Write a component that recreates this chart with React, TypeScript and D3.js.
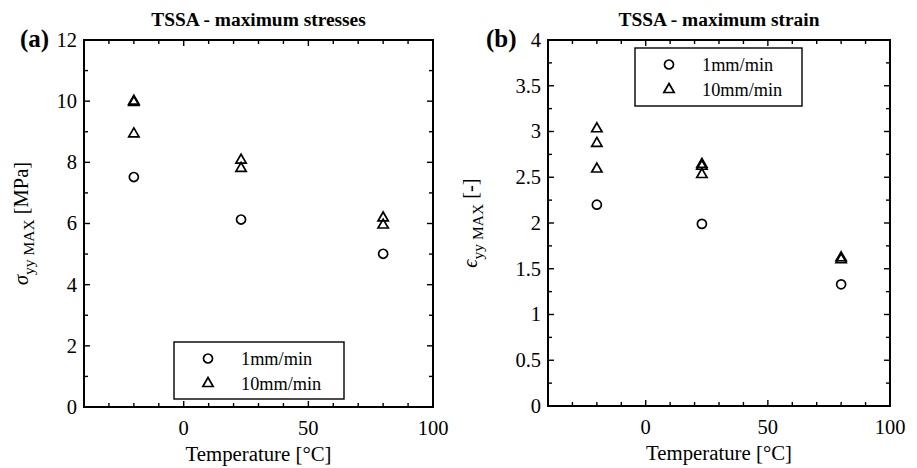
import React from "react";
import * as d3 from "d3";

const stressSlowX = [-20, 23, 80];
const stressSlow = [7.52, 6.13, 5.01];
const stressFastX = [-20, -20, -20, 23, 23, 80, 80];
const stressFast = [10.0, 9.96, 8.93, 8.07, 7.8, 6.18, 5.95];
const strainSlowX = [-20, 23, 80];
const strainSlow = [2.2, 1.99, 1.33];
const strainFastX = [-20, -20, -20, 23, 23, 23, 80, 80];
const strainFast = [3.03, 2.87, 2.59, 2.64, 2.62, 2.53, 1.62, 1.6];
const xTicks = [0, 50, 100];
const stressTicks = [0, 2, 4, 6, 8, 10, 12];
const strainTicks = [0, 0.5, 1, 1.5, 2, 2.5, 3, 3.5, 4];
const legendLabels = ["1mm/min", "10mm/min"];

const FONT = "'Liberation Serif', 'Times New Roman', serif";

function Panel(props: any) {
  const { left, right, top, bottom, yMax, yTicks, yMinorStep, slowX, slow, fastX, fast, title, tag, tagX, legend, ylabelMain, ylabelUnit, ylabelX } = props;
  const x = d3.scaleLinear().domain([-40, 100]).range([left, right]);
  const y = d3.scaleLinear().domain([0, yMax]).range([bottom, top]);
  const xMinor = d3.range(-40, 101, 10);
  const yMinor = d3.range(0, yMax + 1e-9, yMinorStep);
  const circle = d3.symbol().type(d3.symbolCircle).size(64)();
  const tri = d3.symbol().type(d3.symbolTriangle).size(46)();
  const fmt = (v: number) => String(v);
  const midY = (top + bottom) / 2;
  return (
    <g>
      <text x={(left + right) / 2} y={26} textAnchor="middle" fontFamily={FONT} fontWeight="bold" fontSize={19.4}>{title}</text>
      <text x={tagX} y={47} fontFamily={FONT} fontWeight="bold" fontSize={25}>{tag}</text>
      {xMinor.map((v: number) => {
        const major = xTicks.includes(v);
        const L = major ? 6 : 4;
        return (
          <g key={"xt" + v}>
            <line x1={x(v)} x2={x(v)} y1={bottom} y2={bottom - L} stroke="#000" strokeWidth={1.4} />
            <line x1={x(v)} x2={x(v)} y1={top} y2={top + L} stroke="#000" strokeWidth={1.4} />
          </g>
        );
      })}
      {yMinor.map((v: number) => {
        const major = yTicks.some((t: number) => Math.abs(t - v) < 1e-9);
        const L = major ? 6 : 4;
        return (
          <g key={"yt" + v}>
            <line x1={left} x2={left + L} y1={y(v)} y2={y(v)} stroke="#000" strokeWidth={1.4} />
            <line x1={right} x2={right - L} y1={y(v)} y2={y(v)} stroke="#000" strokeWidth={1.4} />
          </g>
        );
      })}
      <rect x={left} y={top} width={right - left} height={bottom - top} fill="none" stroke="#000" strokeWidth={2} />
      {xTicks.map((v: number) => (
        <text key={"xl" + v} x={x(v)} y={bottom + 28} textAnchor="middle" fontFamily={FONT} fontSize={20.5}>{fmt(v)}</text>
      ))}
      {yTicks.map((v: number) => (
        <text key={"yl" + v} x={left - 7} y={y(v)} dy="0.34em" textAnchor="end" fontFamily={FONT} fontSize={20.5}>{fmt(v)}</text>
      ))}
      <text x={(left + right) / 2} y={bottom + 54} textAnchor="middle" fontFamily={FONT} fontSize={20.8}>Temperature [°C]</text>
      <text transform={`translate(${ylabelX},${midY}) rotate(-90)`} textAnchor="middle" fontFamily={FONT} fontSize={20.5}>
        <tspan fontStyle="italic">{ylabelMain}</tspan>
        <tspan fontSize={15.5} dy={6}>yy MAX</tspan>
        <tspan dy={-6}> {ylabelUnit}</tspan>
      </text>
      {slowX.map((xv: number, i: number) => (
        <path key={"s" + i} d={circle} transform={`translate(${x(xv)},${y(slow[i])})`} fill="none" stroke="#000" strokeWidth={1.7} />
      ))}
      {fastX.map((xv: number, i: number) => (
        <path key={"f" + i} d={tri} transform={`translate(${x(xv)},${y(fast[i])})`} fill="none" stroke="#000" strokeWidth={1.7} />
      ))}
      <g>
        <rect x={legend.x} y={legend.y} width={legend.w} height={legend.h} fill="#fff" stroke="#000" strokeWidth={1.4} />
        <path d={circle} transform={`translate(${legend.x + 34},${legend.y + 16.5})`} fill="none" stroke="#000" strokeWidth={1.7} />
        <path d={tri} transform={`translate(${legend.x + 34},${legend.y + 41.5})`} fill="none" stroke="#000" strokeWidth={1.7} />
        <text x={legend.x + 67} y={legend.y + 16.5} dy="0.34em" fontFamily={FONT} fontSize={18.3}>{legendLabels[0]}</text>
        <text x={legend.x + 67} y={legend.y + 41.5} dy="0.34em" fontFamily={FONT} fontSize={18.3}>{legendLabels[1]}</text>
      </g>
    </g>
  );
}

export default function App() {
  return (
    <svg width={917} height={468} style={{ position: "absolute", left: 0, top: 0, background: "#fff" }}>
      <rect width={917} height={468} fill="#fff" />
      <Panel left={84} right={433} top={40} bottom={407} yMax={12} yTicks={stressTicks} yMinorStep={1}
        slowX={stressSlowX} slow={stressSlow} fastX={stressFastX} fast={stressFast}
        title="TSSA - maximum stresses" tag="(a)" tagX={20}
        legend={{ x: 174, y: 342, w: 170, h: 57 }} ylabelMain="σ" ylabelUnit="[MPa]" ylabelX={28} />
      <Panel left={548} right={890} top={40} bottom={406} yMax={4} yTicks={strainTicks} yMinorStep={0.25}
        slowX={strainSlowX} slow={strainSlow} fastX={strainFastX} fast={strainFast}
        title="TSSA - maximum strain" tag="(b)" tagX={486}
        legend={{ x: 635, y: 48, w: 167, h: 58 }} ylabelMain="ϵ" ylabelUnit="[-]" ylabelX={477} />
    </svg>
  );
}
